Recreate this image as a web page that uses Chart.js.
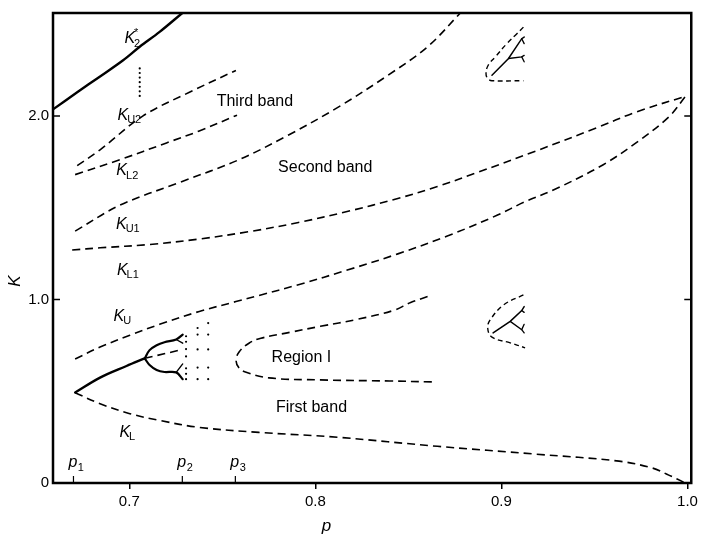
<!DOCTYPE html>
<html><head><meta charset="utf-8">
<script src="https://cdn.jsdelivr.net/npm/chart.js@4"></script>
<style>html,body{margin:0;padding:0;background:#fff}</style>
</head><body>
<canvas id="c" width="702" height="534"></canvas>
<script>
// ---------- tick labels ----------
const xTickValues = [0.7, 0.8, 0.9, 1.0];
const xTickLabels = ['0.7', '0.8', '0.9', '1.0'];
const yTickValues = [0, 1, 2];
const yTickLabels = ['0', '1.0', '2.0'];
const pMarkValues = [0.670, 0.7285, 0.757];
const pMarkLabels = ['1', '2', '3'];

// ---------- curves (p, K) ----------
const k2StarP = [0.6592, 0.672, 0.6843, 0.6965, 0.7056, 0.7163, 0.7285];
const k2StarK = [2.038, 2.130, 2.216, 2.303, 2.378, 2.459, 2.562];
const k2DotsP = [0.7056, 0.7056, 0.7056, 0.7056, 0.7056, 0.7056, 0.7056];
const k2DotsK = [2.11, 2.135, 2.16, 2.185, 2.21, 2.235, 2.26];

const kU2P = [0.672, 0.6843, 0.7072, 0.7323, 0.7573];
const kU2K = [1.730, 1.816, 2.000, 2.130, 2.249];
const kL2P = [0.6709, 0.6949, 0.7200, 0.7376, 0.7579];
const kL2K = [1.681, 1.762, 1.854, 1.919, 2.005];

const kU1P = [0.6709, 0.6949, 0.7269, 0.7589, 0.7856, 0.8123, 0.8389, 0.8603, 0.8779];
const kU1K = [1.373, 1.514, 1.638, 1.762, 1.897, 2.049, 2.222, 2.378, 2.562];

const kL1P = [0.6693, 0.6843, 0.7109, 0.7376, 0.7643, 0.7909, 0.8176, 0.8443, 0.8656, 0.8869, 0.9189, 0.9509, 0.9723, 0.9989];
const kL1K = [1.270, 1.282, 1.300, 1.330, 1.370, 1.420, 1.481, 1.551, 1.616, 1.692, 1.811, 1.935, 2.022, 2.108];

const kUP = [0.6709, 0.6843, 0.7003, 0.7163, 0.7376, 0.7573, 0.7696, 0.7909, 0.8176, 0.8443, 0.8709, 0.8976, 0.9120, 0.9296, 0.9547, 0.9723, 0.9899, 0.9989];
const kUK = [0.676, 0.741, 0.805, 0.865, 0.935, 0.989, 1.022, 1.081, 1.162, 1.249, 1.346, 1.459, 1.530, 1.605, 1.735, 1.854, 1.995, 2.108];

const kLP = [0.6709, 0.6843, 0.7003, 0.7163, 0.7376, 0.7696, 0.8123, 0.8656, 0.9189, 0.9632, 0.9813, 0.9899, 0.9989];
const kLK = [0.492, 0.432, 0.378, 0.341, 0.303, 0.276, 0.249, 0.200, 0.157, 0.119, 0.081, 0.043, 0.000];

const regionIP = [0.8603, 0.8512, 0.8421, 0.8224, 0.8027, 0.7867, 0.7707, 0.7643, 0.7590, 0.7574, 0.7590, 0.7624, 0.7750, 0.8027, 0.8400, 0.8630];
const regionIK = [1.016, 0.984, 0.941, 0.892, 0.854, 0.822, 0.789, 0.762, 0.714, 0.665, 0.627, 0.605, 0.573, 0.562, 0.556, 0.551];

// bifurcation tree near p1..p2
const stemP = [0.6709, 0.6843, 0.6985, 0.7083];
const stemK = [0.4935, 0.5746, 0.6378, 0.6795];
const upperBrP = [0.7083, 0.7109, 0.7147, 0.7189, 0.7252, 0.7287];
const upperBrK = [0.6795, 0.7243, 0.7514, 0.7676, 0.7822, 0.8092];
const upperForkP = [0.7252, 0.7287];
const upperForkK = [0.7822, 0.7622];
const lowerBrP = [0.7083, 0.7109, 0.7147, 0.7189, 0.7252, 0.7287];
const lowerBrK = [0.6795, 0.6430, 0.6160, 0.6050, 0.6030, 0.5660];
const lowerForkP = [0.7252, 0.7287];
const lowerForkK = [0.6030, 0.6490];
const midDashP = [0.7083, 0.7287];
const midDashK = [0.6795, 0.7280];

const dots1P = [0.7305, 0.7305, 0.7305, 0.7305, 0.7305, 0.7305, 0.7305];
const dots1K = [0.566, 0.595, 0.625, 0.690, 0.730, 0.770, 0.800];
const dots2P = [0.7367, 0.7367, 0.7367, 0.7367, 0.7367];
const dots2K = [0.566, 0.629, 0.728, 0.809, 0.845];
const dots3P = [0.7424, 0.7424, 0.7424, 0.7424, 0.7424];
const dots3K = [0.566, 0.629, 0.728, 0.809, 0.872];

// upper-right small structure
const mini1DashP = [0.9118, 0.9083, 0.9029, 0.8967, 0.8928, 0.8917, 0.8926, 0.8949, 0.9118];
const mini1DashK = [2.485, 2.449, 2.395, 2.323, 2.276, 2.232, 2.205, 2.193, 2.193];
const mini1StemP = [0.8949, 0.9038, 0.9109, 0.9122];
const mini1StemK = [2.223, 2.314, 2.422, 2.431];
const mini1TopForkP = [0.9109, 0.9122];
const mini1TopForkK = [2.422, 2.395];
const mini1MidP = [0.9038, 0.9109, 0.9122];
const mini1MidK = [2.314, 2.323, 2.331];
const mini1MidForkP = [0.9109, 0.9122];
const mini1MidForkK = [2.323, 2.296];

// lower-right small structure
const mini2DashP = [0.9118, 0.9012, 0.8940, 0.8926, 0.8949, 0.9047, 0.9127];
const mini2DashK = [1.025, 0.971, 0.890, 0.845, 0.795, 0.764, 0.737];
const mini2StemP = [0.8955, 0.9047, 0.9109, 0.9122];
const mini2StemK = [0.818, 0.881, 0.940, 0.962];
const mini2TopForkP = [0.9109, 0.9122];
const mini2TopForkK = [0.940, 0.930];
const mini2LowP = [0.9047, 0.9109, 0.9122];
const mini2LowK = [0.881, 0.836, 0.818];
const mini2LowForkP = [0.9109, 0.9122];
const mini2LowForkK = [0.836, 0.865];

// ---------- text labels (p, K anchors) ----------
const curveLabels = [
  {main: 'K', sub: '2', sup: '*', p: 0.7019, k: 2.422},
  {main: 'K', sub: 'U2', p: 0.7003, k: 2.005},
  {main: 'K', sub: 'L2', p: 0.6992, k: 1.703},
  {main: 'K', sub: 'U1', p: 0.6995, k: 1.41},
  {main: 'K', sub: 'L1', p: 0.6995, k: 1.16},
  {main: 'K', sub: 'U', p: 0.6965, k: 0.908},
  {main: 'K', sub: 'L', p: 0.6992, k: 0.276}
];
const regionLabels = [
  {text: 'Third band', p: 0.7675, k: 2.081},
  {text: 'Second band', p: 0.8053, k: 1.719},
  {text: 'Region I', p: 0.7925, k: 0.681},
  {text: 'First band', p: 0.7979, k: 0.411}
];

const pts = (P, K) => P.map((p, i) => ({x: p, y: K[i]}));
const FONT = '"Liberation Sans", Arial, sans-serif';

function dashed(P, K, tension) {
  return {data: pts(P, K), showLine: true, borderColor: '#000', borderWidth: 1.6,
    borderDash: [8, 5], pointRadius: 0, tension: tension === undefined ? 0.35 : tension, fill: false};
}
function solid(P, K, w, tension) {
  return {data: pts(P, K), showLine: true, borderColor: '#000', borderWidth: w || 2.2,
    pointRadius: 0, tension: tension === undefined ? 0.35 : tension, fill: false, borderCapStyle: 'round'};
}
function dots(P, K) {
  return {data: pts(P, K), showLine: false, pointRadius: 1.1, pointBackgroundColor: '#000',
    pointBorderWidth: 0, borderColor: '#000'};
}

const datasets = [
  solid(k2StarP, k2StarK, 2.4),
  dots(k2DotsP, k2DotsK),
  dashed(kU2P, kU2K),
  dashed(kL2P, kL2K),
  dashed(kU1P, kU1K),
  dashed(kL1P, kL1K),
  dashed(kUP, kUK),
  dashed(kLP, kLK),
  dashed(regionIP, regionIK, 0.4),
  solid(stemP, stemK, 2.4),
  solid(upperBrP, upperBrK, 2.2),
  solid(upperForkP, upperForkK, 1.4, 0),
  solid(lowerBrP, lowerBrK, 2.2),
  solid(lowerForkP, lowerForkK, 1.4, 0),
  dashed(midDashP, midDashK, 0),
  dots(dots1P, dots1K),
  dots(dots2P, dots2K),
  dots(dots3P, dots3K),
  Object.assign(dashed(mini1DashP, mini1DashK, 0.4), {borderDash: [5, 3.5], borderWidth: 1.4}),
  solid(mini1StemP, mini1StemK, 1.5, 0),
  solid(mini1TopForkP, mini1TopForkK, 1.3, 0),
  solid(mini1MidP, mini1MidK, 1.3, 0),
  solid(mini1MidForkP, mini1MidForkK, 1.3, 0),
  Object.assign(dashed(mini2DashP, mini2DashK, 0.4), {borderDash: [5, 3.5], borderWidth: 1.4}),
  solid(mini2StemP, mini2StemK, 1.5, 0),
  solid(mini2TopForkP, mini2TopForkK, 1.3, 0),
  solid(mini2LowP, mini2LowK, 1.3, 0),
  solid(mini2LowForkP, mini2LowForkK, 1.3, 0)
];

function drawK(ctx, x, y, lab) {
  ctx.font = 'italic 16px ' + FONT;
  ctx.textAlign = 'left';
  ctx.textBaseline = 'middle';
  const wK = ctx.measureText(lab.main).width;
  ctx.font = '11px ' + FONT;
  const wS = ctx.measureText(lab.sub).width;
  const total = wK + wS;
  let x0 = x - total / 2;
  ctx.font = 'italic 16px ' + FONT;
  ctx.fillText(lab.main, x0, y);
  ctx.font = '11px ' + FONT;
  ctx.fillText(lab.sub, x0 + wK - 1, y + 5);
  if (lab.sup) ctx.fillText(lab.sup, x0 + wK - 1, y - 6);
}

const decor = {
  id: 'decor',
  afterDatasetsDraw(chart) {
    const {ctx, chartArea: a, scales: {x, y}} = chart;
    ctx.save();
    ctx.strokeStyle = '#000';
    ctx.fillStyle = '#000';
    // frame
    ctx.lineWidth = 2.5;
    ctx.strokeRect(a.left, a.top, a.right - a.left, a.bottom - a.top);
    // inward y ticks, both sides
    ctx.lineWidth = 1.5;
    yTickValues.forEach(v => {
      if (v === 0) return;
      const py = y.getPixelForValue(v);
      ctx.beginPath();
      ctx.moveTo(a.left, py); ctx.lineTo(a.left + 7, py);
      ctx.moveTo(a.right, py); ctx.lineTo(a.right - 7, py);
      ctx.stroke();
    });
    // p markers
    ctx.lineWidth = 1.2;
    pMarkValues.forEach((v, i) => {
      const px = x.getPixelForValue(v);
      ctx.beginPath();
      ctx.moveTo(px, a.bottom); ctx.lineTo(px, a.bottom - 7);
      ctx.stroke();
      ctx.font = 'italic 16px ' + FONT;
      ctx.textAlign = 'left';
      ctx.textBaseline = 'middle';
      const w = ctx.measureText('p').width;
      const lx = px - 5;
      ctx.fillText('p', lx, a.bottom - 20);
      ctx.font = '11px ' + FONT;
      ctx.fillText(pMarkLabels[i], lx + w + 0.5, a.bottom - 15);
    });
    // curve labels
    curveLabels.forEach(l => drawK(ctx, x.getPixelForValue(l.p), y.getPixelForValue(l.k), l));
    // region labels
    ctx.font = '16px ' + FONT;
    ctx.textAlign = 'center';
    ctx.textBaseline = 'middle';
    regionLabels.forEach(l => ctx.fillText(l.text, x.getPixelForValue(l.p), y.getPixelForValue(l.k)));
    // axis titles
    ctx.font = 'italic 17px ' + FONT;
    ctx.fillText('p', x.getPixelForValue(0.806), a.bottom + 43);
    ctx.save();
    ctx.translate(15, y.getPixelForValue(1.10));
    ctx.rotate(-Math.PI / 2);
    ctx.fillText('K', 0, 0);
    ctx.restore();
    ctx.restore();
  }
};

new Chart(document.getElementById('c'), {
  type: 'scatter',
  data: {datasets},
  plugins: [decor],
  options: {
    responsive: false,
    animation: false,
    events: [],
    layout: {padding: {top: 9, right: 6, left: 0, bottom: 0}},
    plugins: {legend: {display: false}, tooltip: {enabled: false}},
    scales: {
      x: {
        type: 'linear', min: 0.659, max: 1.002,
        afterBuildTicks: s => { s.ticks = xTickValues.map(v => ({value: v})); },
        afterFit: s => { s.height = 51; },
        ticks: {callback: (v) => xTickLabels[xTickValues.indexOf(v)] ?? '', color: '#000',
          font: {family: FONT, size: 15}, padding: 4, maxRotation: 0, autoSkip: false},
        grid: {drawOnChartArea: false, drawTicks: true, tickLength: 6, color: '#000', lineWidth: 1.5},
        border: {display: false}
      },
      y: {
        type: 'linear', min: 0, max: 2.562,
        afterBuildTicks: s => { s.ticks = yTickValues.map(v => ({value: v})); },
        afterFit: s => { s.width = 53; },
        ticks: {callback: (v) => yTickLabels[yTickValues.indexOf(v)] ?? '', color: '#000',
          font: {family: FONT, size: 15}, padding: 4},
        grid: {display: false, drawTicks: false},
        border: {display: false}
      }
    }
  }
});
</script>
</body></html>
